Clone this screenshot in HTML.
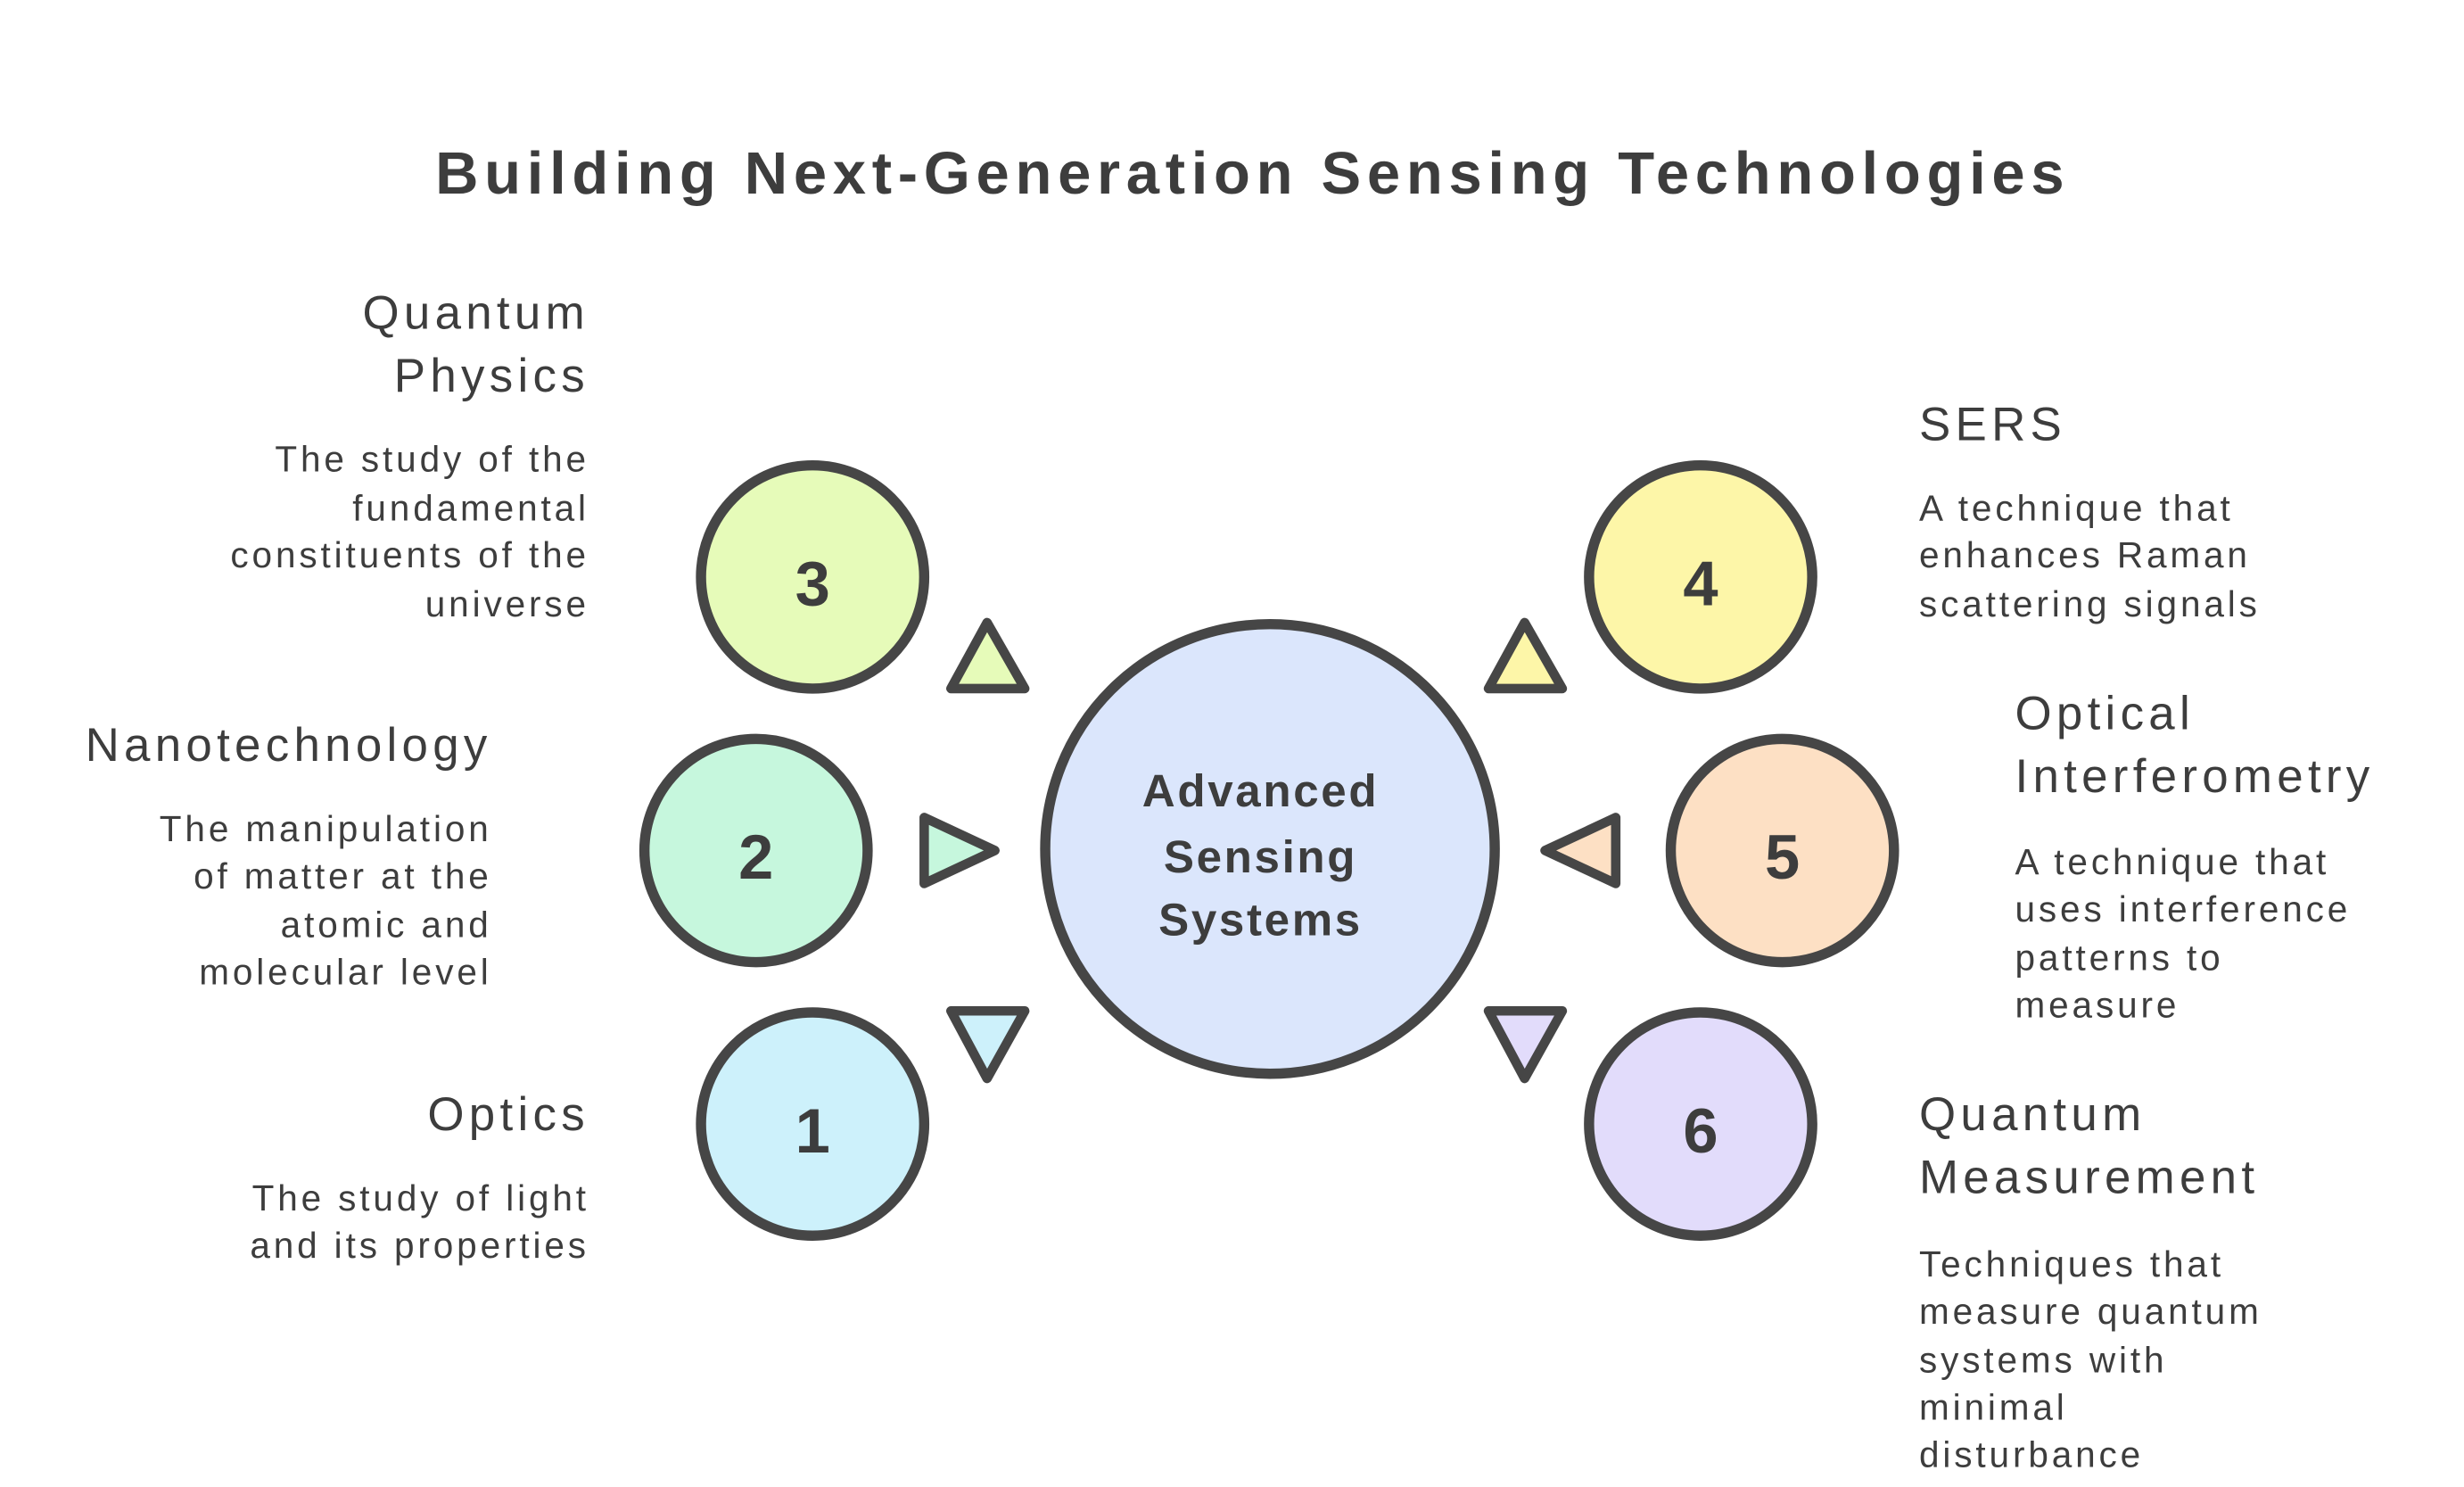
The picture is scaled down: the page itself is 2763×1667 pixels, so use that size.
<!DOCTYPE html>
<html><head><meta charset="utf-8"><style>html,body{margin:0;padding:0;background:#fff}svg{display:block}</style></head>
<body>
<svg width="2763" height="1667" viewBox="0 0 1552 936.4" preserveAspectRatio="none" xmlns="http://www.w3.org/2000/svg" font-family="'Liberation Sans', sans-serif" fill="#3d3d3d">
<rect width="1552" height="937" fill="#fff"/>
<g transform="scale(0.99) translate(-5,-4)">
<text x="802" y="127" font-size="38" font-weight="bold" text-anchor="middle" letter-spacing="3.8">Building Next-Generation Sensing Technologies</text>
<g stroke="#464646" stroke-width="6.5">
<circle cx="813" cy="544" r="143" fill="#dbe6fc"/>
<circle cx="522" cy="371" r="71" fill="#e6fbb9"/>
<circle cx="1087" cy="371" r="71" fill="#fdf6a8"/>
<circle cx="486" cy="545" r="71" fill="#c6f7dd"/>
<circle cx="1139" cy="545" r="71" fill="#fde0c4"/>
<circle cx="522" cy="719" r="71" fill="#cdf1fb"/>
<circle cx="1087" cy="719" r="71" fill="#e2dcfb"/>
</g>
<g stroke="#464646" stroke-width="6" stroke-linejoin="round">
<polygon points="633,400 610,442 657,442" fill="#e6fbb9"/>
<polygon points="975,400 952,442 999,442" fill="#fdf6a8"/>
<polygon points="593,524 593,566 638,545" fill="#c6f7dd"/>
<polygon points="1033,524 1033,566 988,545" fill="#fde0c4"/>
<polygon points="610,647 657,647 633,690" fill="#cdf1fb"/>
<polygon points="952,647 999,647 975,690" fill="#e2dcfb"/>
</g>
<g font-size="40" font-weight="bold" text-anchor="middle">
<text x="522" y="389">3</text><text x="1087" y="389">4</text>
<text x="486" y="563">2</text><text x="1139" y="563">5</text>
<text x="522" y="737">1</text><text x="1087" y="737">6</text>
</g>
<g font-size="29" font-weight="bold" text-anchor="middle" letter-spacing="1.5">
<text x="807" y="517">Advanced</text><text x="807" y="559">Sensing</text><text x="807" y="599">Systems</text>
</g>
<g text-anchor="end">
<g font-size="30" letter-spacing="3"><text x="380" y="213">Quantum</text><text x="380" y="253">Physics</text></g>
<g font-size="23" letter-spacing="2.2"><text x="380" y="304">The study of the</text><text x="380" y="335">fundamental</text><text x="380" y="365">constituents of the</text><text x="380" y="396">universe</text></g>
<text x="318" y="488" font-size="30" letter-spacing="3">Nanotechnology</text>
<g font-size="23" letter-spacing="2.2"><text x="318" y="539">The manipulation</text><text x="318" y="569">of matter at the</text><text x="318" y="600">atomic and</text><text x="318" y="630">molecular level</text></g>
<text x="380" y="723" font-size="30" letter-spacing="3">Optics</text>
<g font-size="23" letter-spacing="2.2"><text x="380" y="774">The study of light</text><text x="380" y="804">and its properties</text></g>
</g>
<g>
<text x="1226" y="284" font-size="30" letter-spacing="3">SERS</text>
<g font-size="23" letter-spacing="2.2"><text x="1226" y="335">A technique that</text><text x="1226" y="365">enhances Raman</text><text x="1226" y="396">scattering signals</text></g>
<g font-size="30" letter-spacing="3"><text x="1287" y="468">Optical</text><text x="1287" y="508">Interferometry</text></g>
<g font-size="23" letter-spacing="2.2"><text x="1287" y="560">A technique that</text><text x="1287" y="590">uses interference</text><text x="1287" y="621">patterns to</text><text x="1287" y="651">measure</text></g>
<g font-size="30" letter-spacing="3"><text x="1226" y="723">Quantum</text><text x="1226" y="763">Measurement</text></g>
<g font-size="23" letter-spacing="2.2"><text x="1226" y="816">Techniques that</text><text x="1226" y="846">measure quantum</text><text x="1226" y="877">systems with</text><text x="1226" y="907">minimal</text><text x="1226" y="937">disturbance</text></g>
</g>
</g>
</svg>
</body></html>
